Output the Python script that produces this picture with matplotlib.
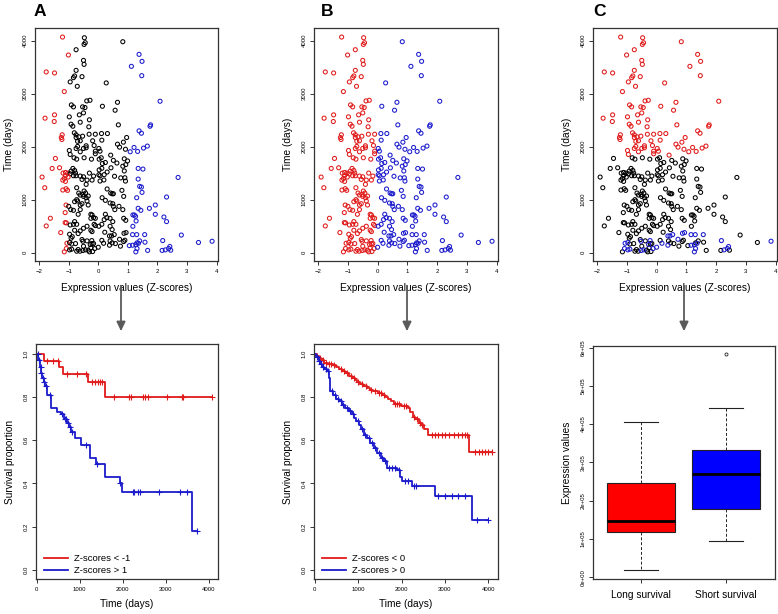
import numpy as np
import matplotlib
matplotlib.use('Agg')
import matplotlib.pyplot as plt
from matplotlib.lines import Line2D

plt.rcParams['font.family'] = ['Liberation Sans', 'DejaVu Sans']

#--------------------------------
# scatter data : (z-score, time in days)
#--------------------------------

pts_neg = [
    (-1.21,4069),(-0.47,4056),(-0.44,3962),(-0.48,3930),(-0.75,3830),(-1.01,3730),(-0.50,3628),(-0.48,3553),
    (-1.76,3410),(-1.48,3391),(-0.75,3440),(-0.80,3334),(-0.84,3302),(-0.55,3321),(-0.95,3222),(-0.71,3139),
    (-1.15,3039),(-0.39,2863),(-0.28,2875),(-0.91,2788),(-0.84,2751),(-0.53,2751),(-0.45,2738),(-0.50,2637),
    (-1.80,2537),(-1.48,2600),(-1.49,2474),(-0.98,2562),(-0.64,2600),(-0.30,2506),(-0.61,2461),(-0.92,2423),
    (-0.86,2385),(-0.32,2374),(-1.22,2223),(-1.25,2172),(-1.23,2135),(-0.81,2261),(-0.75,2223),(-0.75,2172),
    (-0.66,2185),(-0.53,2197),(-0.31,2234),(-0.10,2234),(-0.19,2110),(-0.70,2100),(-0.61,2110),(-0.41,2016),
    (-1.45,1777),(-0.98,1927),(-0.95,1852),(-0.75,1965),(-0.70,2003),(-0.50,1965),(-0.41,1978),(-0.61,1903),
    (-0.14,2021),(-0.10,1914),(-0.10,1865),(-0.82,1790),(-0.73,1763),(-0.48,1790),(-0.23,1763),(-1.56,1588),
    (-1.31,1601),(-1.90,1425),(-1.81,1224),(-1.19,1500),(-1.11,1512),(-1.03,1500),(-0.95,1487),(-0.86,1588),
    (-0.80,1550),(-0.92,1537),(-1.11,1450),(-1.02,1425),(-1.15,1400),(-1.20,1368),(-1.11,1343),(-0.84,1450),
    (-0.75,1450),(-0.77,1500),(-1.09,1205),(-1.04,1174),(-1.20,1180),(-0.73,1224),(-0.61,1444),(-0.55,1380),
    (-0.50,1430),(-0.38,1368),(-0.41,1287),(-0.16,1444),(-0.21,1368),(-0.30,1500),(-0.66,1123),(-0.61,1086),
    (-0.52,1098),(-0.43,1123),(-0.50,1060),(-0.48,1161),(-0.41,1035),(-0.34,1067),
    (-0.73,998),(-0.70,973),(-0.80,960),(-0.61,897),(-0.55,922),(-0.38,973),(-0.34,897),(-1.09,897),
    (-1.00,872),(-0.93,810),(-0.84,797),(-1.12,754),(-0.61,810),(-0.68,722),(-0.25,722),(-0.21,709),
    (-0.16,659),(-0.25,646),(-0.10,646),(-0.14,533),(-0.10,508),(-1.76,502),(-1.62,647),(-1.27,377),
    (-1.12,565),(-1.08,560),(-0.95,520),(-0.80,584),(-0.73,533),(-0.84,533),(-0.38,496),(-0.50,458),
    (-0.25,420),(-0.21,395),(-0.61,408),(-0.68,358),(-0.97,345),(-0.88,300),(-0.92,270),(-0.80,420),
    (-1.15,13),(-0.73,25),(-0.62,25),(-0.30,13),(-0.68,56),(-0.50,119),(-0.34,44),(-0.25,90),
    (-0.21,169),(-0.19,19),(-0.77,169),(-0.55,245),(-0.38,220),(-0.16,170),(-0.90,160),
]

pts_pos = [
    (0.83,3981),(0.27,3203),(0.65,2837),(0.14,2762),(0.57,2687),(0.68,2411),(0.11,2247),(0.31,2247),
    (0.96,2172),(0.85,2084),(0.65,2046),(0.12,2122),(1.38,3742),(1.48,3610),(1.12,3516),(1.47,3340),
    (2.09,2857),(1.77,2411),(1.75,2385),(1.38,2298),(1.46,2253),(1.08,1903),(1.21,1984),(1.33,1909),
    (1.53,1972),(1.66,2010),(0.02,1965),(0.06,1914),(0.42,1839),(0.72,1990),(0.92,1950),
    (0.03,1763),(0.10,1790),(0.14,1680),(0.24,1700),(0.51,1740),(0.63,1690),(0.43,1600),(0.03,1560),
    (0.12,1590),(0.02,1470),(0.06,1450),(0.30,1520),(0.20,1470),(0.83,1630),(0.88,1540),(0.76,1410),
    (0.55,1440),(0.06,1350),(0.19,1370),(0.42,1123),(0.47,1110),(0.51,1110),(0.30,1200),(0.80,1174),
    (0.86,1060),(0.88,1770),(0.99,1730),(0.93,1660),(1.35,1588),(1.51,1576),(2.70,1418),(0.90,1412),
    (0.92,1349),(1.35,1387),(1.40,1249),(1.46,1236),(1.48,1136),(1.30,1035),(2.31,1048),
    (0.13,1035),(0.24,985),(0.40,935),(0.49,922),(0.56,810),(0.51,872),(0.70,872),(0.83,810),
    (0.86,646),(0.93,608),(0.24,722),(0.29,659),(0.20,621),(0.40,646),(0.49,584),(0.02,496),
    (0.12,533),(0.40,496),(0.47,433),(0.22,383),(0.12,230),(0.40,220),(0.47,182),(0.86,207),
    (0.58,169),(1.35,835),(1.44,797),(1.73,835),(1.93,897),(1.17,709),(1.22,709),(1.26,684),
    (1.28,596),(1.93,722),(2.22,671),(2.31,584),(1.17,495),(2.81,330),(0.90,232),(1.31,182),
    (1.40,220),(1.58,195),(1.67,40),(3.39,190),(2.16,40),(2.45,44),(1.05,130),(0.75,120),
]

# points that died early (short survival, panel C)
pts_short = [
    (-1.06,175),(-0.97,188),(-1.08,75),(-0.97,50),(-0.90,63),(-0.52,213),(-0.22,226),(-0.27,150),
    (-0.52,38),(-0.43,50),(-0.12,75),(0.00,100),(0.18,175),(0.38,313),(0.45,313),(0.54,338),
    (0.38,138),(0.72,250),(0.87,363),(0.94,376),(1.16,338),(1.30,338),(1.57,338),(1.16,138),
    (1.27,150),(1.36,175),(1.31,75),(1.27,13),(2.18,226),(2.27,50),(2.38,75),(2.42,113),(3.85,213),
]

long_cut = 1825

#--------------------------------
# Kaplan-Meier curves
#--------------------------------

kmA_red_t = [0, 162, 530, 623, 1192, 1592]
kmA_red_s = [1.0, 0.969, 0.938, 0.906, 0.87, 0.80]
kmA_red_end = 4077
kmA_red_cens = [250, 370, 500, 715, 946, 1160, 1277, 1354, 1423, 1485, 1530, 1792, 2154, 2192,
                2485, 2531, 2600, 3023, 3392, 3408, 4077]

kmA_blue_t = [0, 40, 70, 100, 130, 160, 200, 230, 330, 485, 560, 640, 700, 750, 810, 885, 1023,
              1238, 1370, 1592, 1930, 1985, 3615]
kmA_blue_s = [1.0, 0.97, 0.94, 0.91, 0.89, 0.87, 0.85, 0.81, 0.75, 0.73, 0.72, 0.70, 0.68, 0.66,
              0.64, 0.61, 0.58, 0.52, 0.49, 0.43, 0.40, 0.36, 0.18]
kmA_blue_end = 3738
kmA_blue_cens = [20, 60, 90, 110, 140, 180, 210, 320, 600, 650, 680, 720, 780, 830, 1150, 1400,
                 1950, 2238, 2269, 2369, 2408, 2854, 3331, 3508, 3738]

kmB_red_t = [0, 50, 100, 150, 220, 300, 420, 500, 560, 620, 700, 780, 860, 920, 980, 1050, 1120,
             1200, 1280, 1350, 1450, 1550, 1620, 1680, 1750, 1820, 1980, 2150, 2200, 2260, 2320,
             2400, 2460, 2520, 2600, 3554]
kmB_red_s = [1.0, 0.99, 0.98, 0.97, 0.96, 0.955, 0.95, 0.94, 0.93, 0.92, 0.91, 0.90, 0.89, 0.88,
             0.87, 0.86, 0.85, 0.84, 0.835, 0.83, 0.82, 0.81, 0.80, 0.79, 0.78, 0.77, 0.76, 0.75,
             0.73, 0.71, 0.70, 0.68, 0.67, 0.65, 0.626, 0.544]
kmB_red_end = 4080
kmB_red_cens = [120, 200, 250, 330, 380, 450, 600, 680, 750, 830, 900, 1000, 1100, 1180, 1300,
                1400, 1480, 1520, 1600, 1850, 1900, 1950, 2050, 2100, 2280, 2350, 2430, 2480,
                2700, 2780, 2850, 2930, 3000, 3100, 3200, 3300, 3400, 3460, 3500, 3700, 3780,
                3850, 3920, 4000, 4080]

kmB_blue_t = [0, 40, 90, 130, 170, 220, 285, 320, 360, 420, 500, 560, 630, 700, 785, 850, 900,
              960, 1015, 1070, 1130, 1200, 1285, 1360, 1440, 1520, 1590, 1670, 1900, 1960, 2015,
              2246, 2762, 3615]
kmB_blue_s = [1.0, 0.985, 0.966, 0.955, 0.94, 0.93, 0.92, 0.89, 0.83, 0.81, 0.79, 0.78, 0.765,
              0.75, 0.734, 0.72, 0.703, 0.69, 0.672, 0.65, 0.626, 0.61, 0.587, 0.565, 0.54, 0.52,
              0.505, 0.47, 0.46, 0.43, 0.413, 0.386, 0.34, 0.229]
kmB_blue_end = 4000
kmB_blue_cens = [60, 110, 150, 190, 250, 300, 400, 460, 530, 600, 660, 740, 820, 880, 1000, 1100,
                 1160, 1250, 1330, 1400, 1480, 1550, 1620, 1700, 1780, 1850, 1930, 2080, 2150,
                 2290, 2330, 2850, 3000, 3150, 3300, 3450, 3740, 4000]

#--------------------------------
# box plot stats (panel C)
#--------------------------------

box_labels = ['Long survival', 'Short survival']
box_whislo = [18000, 94000]
box_q1     = [119000, 179000]
box_med    = [148000, 270000]
box_q3     = [246000, 333000]
box_whishi = [405000, 443000]
box_fliers = [[], [582000]]

RED  = '#E01B1B'
BLUE = '#1B1BCC'
FRAME = '#333333'

#--------------------------------

W, H = 778., 614.

def addAxes(fig, l, t, r, b) :
    return fig.add_axes([l/W, 1-b/H, (r-l)/W, (b-t)/H])

def styleAxes(ax) :
    for sp in ax.spines.values() :
        sp.set_color(FRAME)
        sp.set_linewidth(0.9)
    ax.tick_params(length=3, width=0.7, color=FRAME, labelsize=4.3, pad=2.5)
    ax.tick_params(axis='y', labelrotation=90)
    for lab in ax.get_yticklabels() :
        lab.set_va('center')

def plotScatter(ax, colors) :
    pts = pts_neg + pts_pos + pts_short
    z = np.array([p[0] for p in pts])
    t = np.array([p[1] for p in pts])
    ax.scatter(z, t, s=8.5, facecolors='none', edgecolors=colors, linewidths=0.75)
    ax.set_xlim(-2.14, 4.05)
    ax.set_ylim(-160, 4240)
    ax.set_xticks(range(-2, 5))
    ax.set_yticks(range(0, 4001, 1000))
    ax.set_xlabel('Expression values (Z-scores)', fontsize=7.3, labelpad=7)
    ax.set_ylabel('Time (days)', fontsize=7.3, labelpad=6)
    styleAxes(ax)

def kmLine(ax, times, surv, tend, cens, color) :
    tt = list(times) + [tend]
    ss = list(surv) + [surv[-1]]
    ax.step(tt, ss, where='post', color=color, lw=1.3)
    idx = np.searchsorted(times, cens, side='right') - 1
    ax.plot(cens, np.array(surv)[idx], ls='none', marker='+', ms=4, mew=0.8, color=color)

def plotKM(ax, red, blue, labels) :
    kmLine(ax, *red, RED)
    kmLine(ax, *blue, BLUE)
    ax.set_xlim(-15, 4220)
    ax.set_ylim(-0.043, 1.046)
    ax.set_xticks(range(0, 4001, 1000))
    ax.set_yticks([0.0, 0.2, 0.4, 0.6, 0.8, 1.0])
    ax.set_yticklabels(['0.0', '0.2', '0.4', '0.6', '0.8', '1.0'])
    ax.set_xlabel('Time (days)', fontsize=7.3, labelpad=5)
    ax.set_ylabel('Survival proportion', fontsize=7.3, labelpad=6)
    handles = [Line2D([], [], color=RED, lw=1.3), Line2D([], [], color=BLUE, lw=1.3)]
    ax.legend(handles, labels, loc='lower left', bbox_to_anchor=(0.025, 0.0), borderaxespad=0,
              frameon=False, fontsize=6.8, handlelength=2.5, handletextpad=0.6, labelspacing=0.3)
    styleAxes(ax)

def plotBox(ax) :
    stats = []
    for i in range(2) :
        stats.append(dict(label=box_labels[i], whislo=box_whislo[i], q1=box_q1[i], med=box_med[i],
                          q3=box_q3[i], whishi=box_whishi[i], fliers=box_fliers[i]))
    bp = ax.bxp(stats, positions=[1, 2], widths=0.8, patch_artist=True,
                boxprops=dict(edgecolor='#222222', linewidth=0.8),
                medianprops=dict(color='black', linewidth=2.0),
                whiskerprops=dict(color='#222222', linestyle=(0, (3, 2)), linewidth=0.7),
                capprops=dict(color='#222222', linewidth=0.8),
                flierprops=dict(marker='o', markersize=2.2, markerfacecolor='none',
                                markeredgecolor='#222222', markeredgewidth=0.6))
    for cap in bp['caps'] :
        x = cap.get_xdata()
        m = x.mean()
        cap.set_xdata([m - 0.2, m + 0.2])
    bp['boxes'][0].set_facecolor('#FF0000')
    bp['boxes'][1].set_facecolor('#0000FF')
    ax.set_xlim(0.43, 2.58)
    ax.set_ylim(-4500, 604000)
    ax.set_yticks(range(0, 600001, 100000))
    ax.set_yticklabels(['0e+00', '1e+05', '2e+05', '3e+05', '4e+05', '5e+05', '6e+05'])
    ax.set_ylabel('Expression values', fontsize=7.3, labelpad=6)
    styleAxes(ax)
    ax.tick_params(axis='x', labelsize=7.3, pad=5)

#--------------------------------

def main() :
    fig = plt.figure(figsize=(7.78, 6.14), dpi=100, facecolor='w')

    npts = len(pts_neg) + len(pts_pos) + len(pts_short)
    pts = pts_neg + pts_pos + pts_short
    colA = [RED if p[0] < -1 else (BLUE if p[0] > 1 else 'black') for p in pts]
    colB = [RED if p[0] < 0 else BLUE for p in pts]
    colC = []
    for i, p in enumerate(pts) :
        if i >= npts - len(pts_short) : colC.append(BLUE)
        elif p[1] > long_cut : colC.append(RED)
        else : colC.append('black')

    axA = addAxes(fig, 35, 28, 218, 261)
    axB = addAxes(fig, 314, 28, 498, 261)
    axC = addAxes(fig, 593, 28, 777, 261)
    plotScatter(axA, colA)
    plotScatter(axB, colB)
    plotScatter(axC, colC)

    axD = addAxes(fig, 36, 344, 218, 579)
    axE = addAxes(fig, 314, 344, 498, 579)
    axF = addAxes(fig, 593, 346, 775, 579)
    plotKM(axD, (kmA_red_t, kmA_red_s, kmA_red_end, kmA_red_cens),
           (kmA_blue_t, kmA_blue_s, kmA_blue_end, kmA_blue_cens),
           ['Z-scores < -1', 'Z-scores > 1'])
    plotKM(axE, (kmB_red_t, kmB_red_s, kmB_red_end, kmB_red_cens),
           (kmB_blue_t, kmB_blue_s, kmB_blue_end, kmB_blue_cens),
           ['Z-scores < 0', 'Z-scores > 0'])
    plotBox(axF)

    for lab, x in [('A', 40), ('B', 327), ('C', 599)] :
        fig.text(x/W, 1-11/H, lab, fontsize=12.5, fontweight='bold', ha='center', va='center')

    for x in [121, 407, 684] :
        fig.add_artist(matplotlib.patches.FancyArrowPatch((x/W, 1-283/H), (x/W, 1-334/H),
                       transform=fig.transFigure, arrowstyle='-|>,head_length=5.5,head_width=2.6',
                       color='#5a5a5a', lw=1.3, mutation_scale=1))

    fig.savefig('out.png', dpi=100)

if __name__ == "__main__" :
    main()
